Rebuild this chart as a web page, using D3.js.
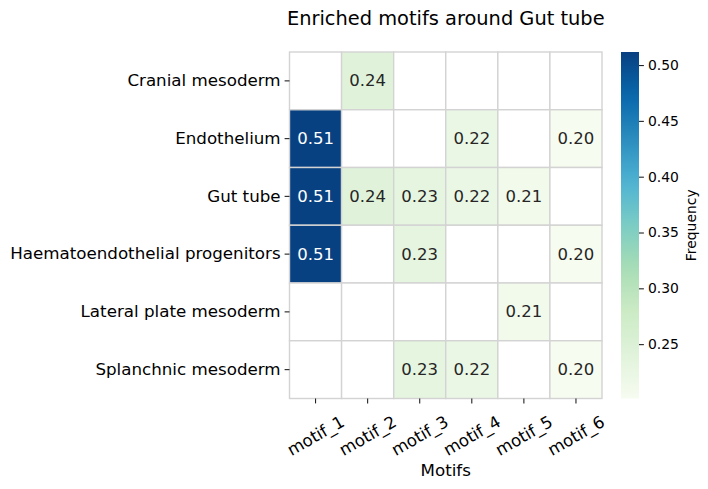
<!DOCTYPE html>
<html>
<head>
<meta charset="utf-8">
<script src="https://cdn.jsdelivr.net/npm/d3@7"></script>
<style>
  body { margin: 0; background: #fff; }
  text { font-family: "DejaVu Sans", sans-serif; }
</style>
</head>
<body>
<div id="chart"></div>
<script>
// ---- data ----
const rows = ["Cranial mesoderm", "Endothelium", "Gut tube",
  "Haematoendothelial progenitors", "Lateral plate mesoderm", "Splanchnic mesoderm"];
const motifs = ["motif_1", "motif_2", "motif_3", "motif_4", "motif_5", "motif_6"];
// null = motif not enriched (blank cell)
const values = [
  [null, 0.241, null, null, null, null],
  [0.511, null, null, 0.221, null, 0.2013],
  [0.511, 0.241, 0.232, 0.221, 0.211, null],
  [0.511, null, 0.232, null, null, 0.2013],
  [null, null, null, null, 0.211, null],
  [null, null, 0.232, 0.221, null, 0.2013]
];
const cbarTicks = [0.25, 0.30, 0.35, 0.40, 0.45, 0.50];
const vMin = 0.2013, vMax = 0.5117;

// ---- layout ----
const width = 708, height = 489;
const plot = { left: 289.5, top: 52, width: 312.5, height: 346.5 };
const cbar = { x: 621, width: 18, top: 52, height: 346.5 };

const svg = d3.select("#chart").append("svg")
  .attr("width", width).attr("height", height);

const x = d3.scaleBand().domain(motifs).range([plot.left, plot.left + plot.width]);
const y = d3.scaleBand().domain(rows).range([plot.top, plot.top + plot.height]);

// matplotlib GnBu (linear between colorbrewer points)
const gnbu = ["#f7fcf0", "#e0f3db", "#ccebc5", "#a8ddb5", "#7bccc4", "#4eb3d3", "#2b8cbe", "#0868ac", "#084081"];
const color = d3.scaleLinear()
  .domain(gnbu.map((_, i) => vMin + (vMax - vMin) * i / (gnbu.length - 1)))
  .range(gnbu)
  .clamp(true);

// ---- cells ----
const cells = [];
values.forEach((row, i) => row.forEach((v, j) => cells.push({ r: rows[i], m: motifs[j], v })));

svg.append("g").selectAll("rect").data(cells).join("rect")
  .attr("x", d => x(d.m))
  .attr("y", d => y(d.r))
  .attr("width", x.bandwidth())
  .attr("height", y.bandwidth())
  .attr("fill", d => d.v == null ? "#ffffff" : color(d.v))
  .attr("stroke", "#d3d3d3")
  .attr("stroke-width", 1.4);

svg.append("g").selectAll("text").data(cells.filter(d => d.v != null)).join("text")
  .attr("x", d => x(d.m) + x.bandwidth() / 2)
  .attr("y", d => y(d.r) + y.bandwidth() / 2)
  .attr("text-anchor", "middle")
  .attr("dominant-baseline", "central")
  .attr("font-size", "16.5px")
  .attr("fill", d => d.v > 0.4 ? "#ffffff" : "#262626")
  .text(d => d3.format(".2f")(d.v));

// ---- axes ----
const yAxis = svg.append("g")
  .attr("transform", `translate(${plot.left},0)`)
  .call(d3.axisLeft(y).tickSize(4.9).tickPadding(4));
yAxis.select(".domain").remove();
yAxis.selectAll("text").attr("font-size", "16.7px").attr("fill", "#000")
  .style("font-family", "DejaVu Sans");
yAxis.selectAll("line").attr("stroke", "#222").attr("stroke-width", 1.1);

const xAxis = svg.append("g")
  .attr("transform", `translate(0,${plot.top + plot.height})`)
  .call(d3.axisBottom(x).tickSize(4.9).tickPadding(0));
xAxis.select(".domain").remove();
xAxis.selectAll("line").attr("stroke", "#222").attr("stroke-width", 1.1);
xAxis.selectAll("text")
  .attr("font-size", "16.7px").attr("fill", "#000")
  .style("font-family", "DejaVu Sans")
  .attr("text-anchor", "middle")
  .attr("dominant-baseline", "central")
  .attr("dy", null)
  .attr("y", 0)
  .attr("transform", "translate(0,37) rotate(-30)");

svg.append("text")
  .attr("x", plot.left + plot.width / 2)
  .attr("y", 470)
  .attr("text-anchor", "middle")
  .attr("dominant-baseline", "central")
  .attr("font-size", "16.7px")
  .text("Motifs");

svg.append("text")
  .attr("x", plot.left + plot.width / 2)
  .attr("y", 25)
  .attr("text-anchor", "middle")
  .attr("font-size", "19.4px")
  .text("Enriched motifs around Gut tube");

// ---- colorbar ----
const defs = svg.append("defs");
const grad = defs.append("linearGradient").attr("id", "cbar")
  .attr("x1", 0).attr("y1", 1).attr("x2", 0).attr("y2", 0);
d3.range(0, 1.0001, 0.05).forEach(t => {
  grad.append("stop").attr("offset", t)
    .attr("stop-color", color(vMin + t * (vMax - vMin)));
});
svg.append("rect")
  .attr("x", cbar.x).attr("y", cbar.top)
  .attr("width", cbar.width).attr("height", cbar.height)
  .attr("fill", "url(#cbar)");

const cScale = d3.scaleLinear().domain([vMin, vMax]).range([cbar.top + cbar.height, cbar.top]);
const cAxis = svg.append("g")
  .attr("transform", `translate(${cbar.x + cbar.width},0)`)
  .call(d3.axisRight(cScale).tickValues(cbarTicks).tickFormat(d3.format(".2f")).tickSize(4.9).tickPadding(4));
cAxis.select(".domain").remove();
cAxis.selectAll("line").attr("stroke", "#222").attr("stroke-width", 1.1);
cAxis.selectAll("text").attr("font-size", "13.9px").attr("fill", "#000")
  .style("font-family", "DejaVu Sans");

svg.append("text")
  .attr("transform", `translate(691,${cbar.top + cbar.height / 2}) rotate(-90)`)
  .attr("text-anchor", "middle")
  .attr("dominant-baseline", "central")
  .attr("font-size", "13.9px")
  .text("Frequency");
</script>
</body>
</html>
